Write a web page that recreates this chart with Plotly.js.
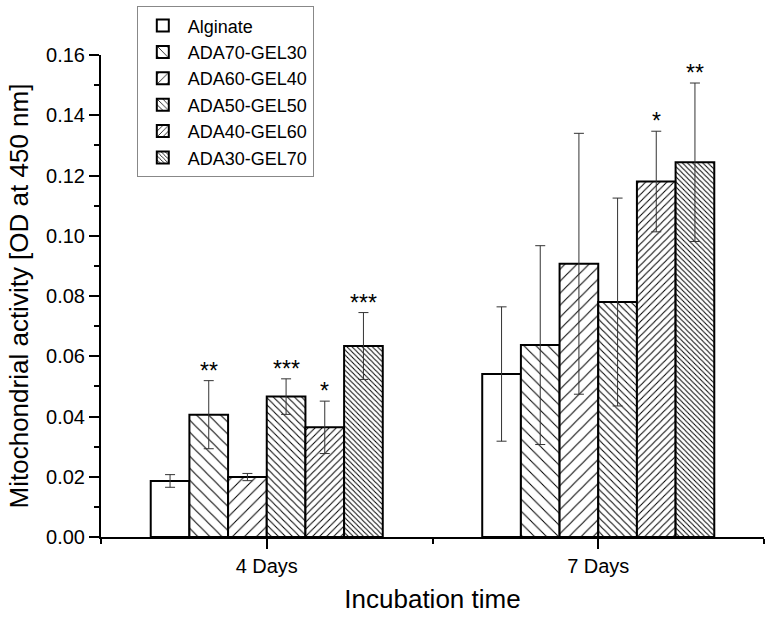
<!DOCTYPE html>
<html>
<head>
<meta charset="utf-8">
<script src="https://cdn.plot.ly/plotly-3.0.1.min.js"></script>
<style>html,body{margin:0;padding:0;background:#fff;}#chart{width:770px;height:617px;}</style>
</head>
<body>
<div id="chart"></div>
<script>
// ---- data ----
const categories = ['4 Days', '7 Days'];
const seriesNames = ['Alginate', 'ADA70-GEL30', 'ADA60-GEL40', 'ADA50-GEL50', 'ADA40-GEL60', 'ADA30-GEL70'];
const alginate    = [0.0186, 0.0541];
const alginateErr = [0.0021, 0.0223];
const ada70       = [0.0406, 0.0637];
const ada70Err    = [0.0113, 0.0330];
const ada60       = [0.0199, 0.0907];
const ada60Err    = [0.0012, 0.0433];
const ada50       = [0.0466, 0.0780];
const ada50Err    = [0.0059, 0.0345];
const ada40       = [0.0364, 0.1180];
const ada40Err    = [0.0087, 0.0167];
const ada30       = [0.0634, 0.1244];
const ada30Err    = [0.0111, 0.0263];
const alginateSig = ['', ''];
const ada70Sig    = ['**', ''];
const ada60Sig    = ['', ''];
const ada50Sig    = ['***', ''];
const ada40Sig    = ['*', '*'];
const ada30Sig    = ['***', '**'];

const values = [alginate, ada70, ada60, ada50, ada40, ada30];
const errors = [alginateErr, ada70Err, ada60Err, ada50Err, ada40Err, ada30Err];
const sigs   = [alginateSig, ada70Sig, ada60Sig, ada50Sig, ada40Sig, ada30Sig];

// ---- styles ----
const FONT = '"Liberation Sans", Arial, sans-serif';
const patShapes = ['', '\\', '/', '\\', '/', '\\'];
const patSizes  = [8, 8.5, 8.5, 5, 5, 3.6];
const patSolid  = [0.2, 0.12, 0.12, 0.2, 0.2, 0.28];

const xpos = categories.map((c, i) => i);
const bargap = 0.3;

const traces = seriesNames.map((name, s) => ({
  type: 'bar',
  name: name,
  x: xpos,
  y: values[s],
  marker: {
    color: '#ffffff',
    line: {color: '#000000', width: 2},
    pattern: {shape: patShapes[s], size: patSizes[s], solidity: patSolid[s], fgcolor: '#000000', bgcolor: '#ffffff', fillmode: 'replace'}
  },
  error_y: {type: 'data', array: errors[s], visible: true, color: '#333333', thickness: 1, width: 5},
  hoverinfo: 'x+y+name'
}));

const n = seriesNames.length;
const barW = (1 - bargap) / n;
const annotations = [];
seriesNames.forEach((name, s) => {
  xpos.forEach((xv, i) => {
    if (sigs[s][i]) {
      annotations.push({
        x: xv - (1 - bargap) / 2 + (s + 0.5) * barW,
        y: values[s][i] + errors[s][i],
        xref: 'x', yref: 'y',
        text: sigs[s][i],
        showarrow: false,
        yanchor: 'bottom',
        yshift: -5,
        font: {family: FONT, size: 23, color: '#000'}
      });
    }
  });
});

const layout = {
  width: 770, height: 617,
  margin: {l: 101, r: 6, t: 53, b: 80},
  paper_bgcolor: '#fff', plot_bgcolor: '#fff',
  barmode: 'group', bargap: bargap, bargroupgap: 0,
  font: {family: FONT, color: '#000'},
  showlegend: true,
  legend: {
    x: 0.054, y: 1.101, xanchor: 'left', yanchor: 'top',
    bgcolor: '#fff', bordercolor: '#888', borderwidth: 1,
    font: {family: FONT, size: 18, color: '#000'},
    tracegroupgap: 0, itemwidth: 40
  },
  xaxis: {
    type: 'linear', range: [-0.5, 1.5],
    tickvals: xpos, ticktext: categories,
    ticks: 'outside', ticklen: 10, tickwidth: 2, tickcolor: '#000',
    minor: {tick0: -0.5, dtick: 1, ticks: 'outside', ticklen: 5, tickwidth: 2, tickcolor: '#000'},
    showline: true, linecolor: '#000', linewidth: 2,
    showgrid: false, zeroline: false,
    tickfont: {family: FONT, size: 20, color: '#000'},
    title: {text: 'Incubation time', font: {family: FONT, size: 26, color: '#000'}, standoff: 14}
  },
  yaxis: {
    range: [0, 0.16], dtick: 0.02, tick0: 0, tickformat: '.2f',
    ticks: 'outside', ticklen: 10, tickwidth: 2, tickcolor: '#000',
    minor: {dtick: 0.01, ticks: 'outside', ticklen: 5, tickwidth: 2, tickcolor: '#000'},
    showline: true, linecolor: '#000', linewidth: 2,
    showgrid: false, zeroline: false,
    tickfont: {family: FONT, size: 20, color: '#000'},
    title: {text: 'Mitochondrial activity [OD at 450 nm]', font: {family: FONT, size: 26, color: '#000'}, standoff: 10}
  },
  annotations: annotations
};

Plotly.newPlot('chart', traces, layout, {displayModeBar: false, staticPlot: true});
</script>
</body>
</html>
